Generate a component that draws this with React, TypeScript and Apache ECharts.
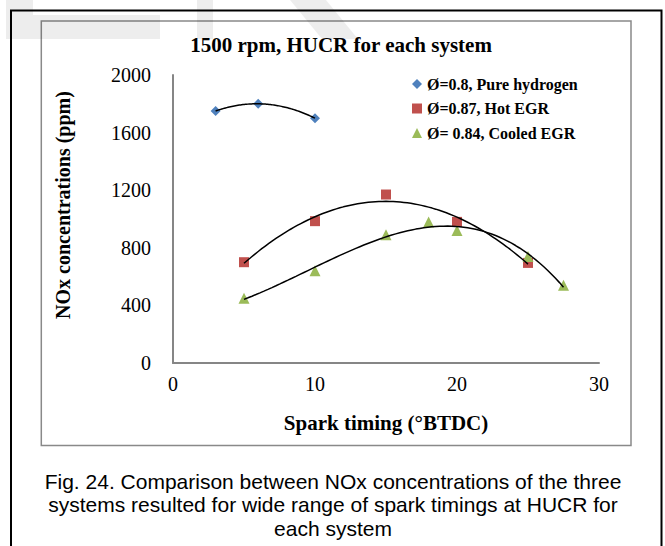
import React, { useEffect, useRef } from "react";
import * as echarts from "echarts";

// Spark timing (°BTDC) and NOx (ppm) for each system
const sparkPure = [3, 6, 10];
const noxPure = [1750, 1800, 1700];
const sparkHot = [5, 10, 15, 20, 25];
const noxHot = [700, 985, 1170, 980, 695];
const sparkCooled = [5, 10, 15, 18, 20, 25, 27.5];
const noxCooled = [450, 640, 890, 980, 920, 740, 540];

const seriesNames = ["Ø=0.8, Pure hydrogen", "Ø=0.87, Hot EGR", "Ø= 0.84, Cooled EGR"];
const seriesColors = ["#4F81BD", "#C0504D", "#9BBB59"];
const seriesSymbols = ["diamond", "rect", "triangle"];
const trendOrders = [2, 2, 3];

const xTicks = { min: 0, max: 30, interval: 10 };
const yTicks = { min: 0, max: 2000, interval: 400 };

const titleText = "1500 rpm, HUCR for each system";
const xName = "Spark timing (°BTDC)";
const yName = "NOx concentrations (ppm)";
const captionLines = [
  "Fig. 24. Comparison between NOx concentrations of the three",
  "systems resulted for wide range of spark timings at HUCR for",
  "each system",
];

const SERIF = "'Liberation Serif', 'Times New Roman', serif";
const SANS = "'Liberation Sans', Arial, sans-serif";

// Least-squares polynomial fit (coefficients from constant term upward)
function polyfit(xs: number[], ys: number[], order: number): number[] {
  const m = order + 1;
  const A: number[][] = Array.from({ length: m }, () => new Array(m + 1).fill(0));
  for (let r = 0; r < m; r++) {
    for (let c = 0; c < m; c++) A[r][c] = xs.reduce((s, x) => s + Math.pow(x, r + c), 0);
    A[r][m] = xs.reduce((s, x, i) => s + ys[i] * Math.pow(x, r), 0);
  }
  for (let i = 0; i < m; i++) {
    let p = i;
    for (let k = i + 1; k < m; k++) if (Math.abs(A[k][i]) > Math.abs(A[p][i])) p = k;
    const tmp = A[i];
    A[i] = A[p];
    A[p] = tmp;
    for (let k = i + 1; k < m; k++) {
      const f = A[k][i] / A[i][i];
      for (let j = i; j <= m; j++) A[k][j] -= f * A[i][j];
    }
  }
  const coef = new Array(m).fill(0);
  for (let i = m - 1; i >= 0; i--) {
    let s = A[i][m];
    for (let j = i + 1; j < m; j++) s -= A[i][j] * coef[j];
    coef[i] = s / A[i][i];
  }
  return coef;
}

function trendLine(xs: number[], ys: number[], order: number): number[][] {
  const coef = polyfit(xs, ys, order);
  const x0 = Math.min(...xs);
  const x1 = Math.max(...xs);
  const steps = 80;
  const pts: number[][] = [];
  for (let i = 0; i <= steps; i++) {
    const x = x0 + ((x1 - x0) * i) / steps;
    const y = coef.reduce((s, c, k) => s + c * Math.pow(x, k), 0);
    pts.push([x, y]);
  }
  return pts;
}

export default function App() {
  const ref = useRef<HTMLDivElement>(null);

  useEffect(() => {
    if (!ref.current) return;
    const chart = echarts.init(ref.current, null, { renderer: "svg" });

    const groups = [
      [sparkPure, noxPure],
      [sparkHot, noxHot],
      [sparkCooled, noxCooled],
    ];

    const scatterSeries = groups.map(([xs, ys], i) => ({
      name: seriesNames[i],
      type: "scatter",
      symbol: seriesSymbols[i],
      symbolSize: i === 2 ? 11 : 10,
      itemStyle: { color: seriesColors[i], opacity: 1 },
      data: xs.map((x, k) => [x, ys[k]]),
      z: 3,
    }));

    const trendSeries = groups.map(([xs, ys], i) => ({
      name: "trend" + i,
      type: "line",
      showSymbol: false,
      symbol: "none",
      lineStyle: { color: "#000", width: 1.5 },
      data: trendLine(xs, ys, trendOrders[i]),
      z: 4,
      silent: true,
    }));

    const captionGraphics = captionLines.map((line, i) => ({
      type: "text",
      x: 333,
      y: 481 + i * 23.5,
      style: {
        text: line,
        font: `21px ${SANS}`,
        fill: "#000",
        align: "center",
        verticalAlign: "middle",
      },
    }));

    const shade = "rgba(0,0,0,0.07)";

    chart.setOption({
      animation: false,
      backgroundColor: "#fff",
      title: {
        text: titleText,
        left: 336,
        top: 29,
        textAlign: "center",
        textStyle: { fontFamily: SERIF, fontWeight: "bold", fontSize: 21, color: "#000", lineHeight: 22 },
      },
      legend: {
        data: seriesNames,
        orient: "vertical",
        left: 407,
        top: 71,
        itemWidth: 10,
        itemHeight: 10,
        itemGap: 8.5,
        textStyle: { fontFamily: SERIF, fontWeight: "bold", fontSize: 16, color: "#000", lineHeight: 16 },
      },
      grid: { left: 173, right: 66, top: 75, bottom: 183 },
      xAxis: {
        type: "value",
        min: xTicks.min,
        max: xTicks.max,
        interval: xTicks.interval,
        name: xName,
        nameLocation: "middle",
        nameGap: 49,
        nameTextStyle: { fontFamily: SERIF, fontWeight: "bold", fontSize: 21, color: "#000" },
        axisLine: { lineStyle: { color: "#868686", width: 2 } },
        axisTick: { show: false },
        splitLine: { show: false },
        axisLabel: { fontFamily: SERIF, fontSize: 20, color: "#000", margin: 11 },
      },
      yAxis: {
        type: "value",
        min: yTicks.min,
        max: yTicks.max,
        interval: yTicks.interval,
        axisLine: { show: true, lineStyle: { color: "#868686", width: 2 } },
        axisTick: { show: false },
        splitLine: { show: false },
        axisLabel: {
          fontFamily: SERIF,
          fontSize: 20,
          color: "#000",
          margin: 22,
          formatter: (v: number) => String(v),
        },
      },
      series: [...trendSeries, ...scatterSeries],
      graphic: [
        {
          type: "rect",
          shape: { x: 11, y: 10.5, width: 650.5, height: 560 },
          style: { fill: "none", stroke: "#000", lineWidth: 2 },
          z: 10,
        },
        {
          type: "rect",
          shape: { x: 41.3, y: 21, width: 589.7, height: 424.5 },
          style: { fill: "none", stroke: "#898989", lineWidth: 1.5 },
          z: 10,
        },
        {
          type: "text",
          x: 63,
          y: 205,
          rotation: Math.PI / 2,
          style: {
            text: yName,
            font: `bold 20px ${SERIF}`,
            fill: "#000",
            align: "center",
            verticalAlign: "middle",
          },
        },
        ...captionGraphics,
        { type: "rect", shape: { x: 6, y: 0, width: 27, height: 39 }, style: { fill: shade }, z: 20, silent: true },
        { type: "rect", shape: { x: 33, y: 15, width: 127, height: 24 }, style: { fill: shade }, z: 20, silent: true },
        { type: "rect", shape: { x: 197, y: 0, width: 16, height: 39 }, style: { fill: shade }, z: 20, silent: true },
        {
          type: "polygon",
          shape: { points: [[290, 0], [326, 0], [358, 39], [322, 39]] },
          style: { fill: shade },
          z: 20,
          silent: true,
        },
      ],
    });

    return () => chart.dispose();
  }, []);

  return (
    <div
      ref={ref}
      style={{ position: "fixed", left: 0, top: 0, width: 665, height: 546 }}
    />
  );
}
